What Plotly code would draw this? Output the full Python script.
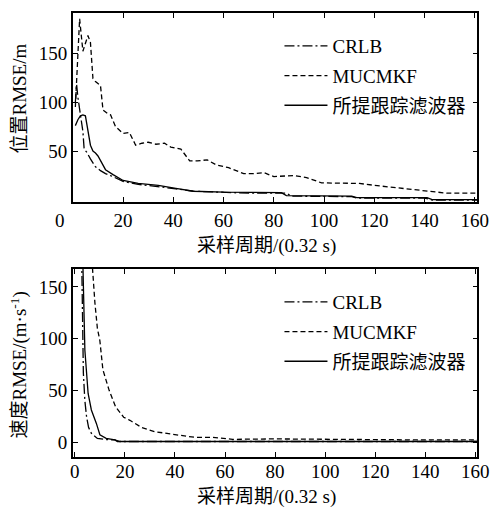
import plotly.graph_objects as go

# ---------------- data ----------------
# Position RMSE (top panel)
pos_crlb_x = [1, 1.5, 2, 3, 4, 4.5, 5.5, 7, 9, 11, 13, 15, 20, 26, 34, 41, 48, 60, 70, 85, 87, 111, 113, 140, 143, 161]
pos_crlb_y = [100, 118, 105, 88, 70, 52, 49, 42, 34, 30, 27, 25, 19, 16, 14, 11.5, 9, 7.5, 7, 7, 4, 3.5, 2, 2, 0, 0]

pos_muc_x = [1, 2, 2.7, 4, 5, 6, 7, 8, 9, 11, 12, 14, 15, 17, 20, 22.5, 25, 27.5, 30, 33, 36.5, 39, 43, 46.5, 49.5, 53.5, 57, 62, 68, 72, 76, 80, 88, 93, 99, 108, 114, 120, 127, 134, 141, 149, 155, 161]
pos_muc_y = [95, 150, 185, 152, 160, 168, 161, 124, 121, 117, 92, 88, 87, 75, 68, 69, 56, 58, 59, 57, 58, 54, 52, 40, 40, 41, 36, 33, 27, 27, 28, 24, 25, 23, 17.5, 17, 17, 15, 13, 11, 9, 7, 7, 7]

pos_prop_x = [1, 2, 3, 4, 5, 6, 7, 8, 9, 10, 11, 13, 16, 20, 26, 34, 41, 48, 60, 70, 83, 85, 111, 113, 141, 143, 161]
pos_prop_y = [76, 82, 86, 87, 86, 70, 56, 50, 48, 45, 40, 31, 26, 20, 17, 15, 12, 9, 8, 7.5, 7.5, 4.5, 4, 2.5, 2.5, 0.5, 0.5]

# Velocity RMSE (bottom panel)
vel_crlb_x = [2, 2.7, 3.1, 3.4, 4, 4.7, 5.5, 6.6, 9, 12, 16, 18, 161]
vel_crlb_y = [300, 170, 84, 67, 40, 24, 14, 8.5, 3.5, 2.5, 2, 0.5, 0.5]

vel_muc_x = [5, 7, 8, 9, 10, 11.2, 13.7, 16.3, 19.5, 22, 26.7, 32, 39, 48, 55, 63, 80, 100, 120, 140, 161]
vel_muc_y = [300, 170, 135, 110, 98, 70, 50, 34, 24, 21, 14, 10, 7.5, 4.5, 4.5, 2.6, 3, 2.5, 2.5, 2, 2]

vel_prop_x = [2, 3.2, 3.6, 4, 5.3, 6.6, 8.6, 10, 12.5, 16, 17, 161]
vel_prop_y = [300, 170, 120, 89, 47, 31, 18, 7, 3.5, 2, 0.5, 0.5]

names = ["CRLB", "MUCMKF", "所提跟踪滤波器"]
x_ticks = [0, 20, 40, 60, 80, 100, 120, 140, 160]
pos_yticks = [50, 100, 150]
vel_yticks = [0, 50, 100, 150]
x_title = "采样周期/(0.32 s)"
pos_title = "位置RMSE/m"
vel_title = "速度RMSE/(m·s<sup>-1</sup>)"

# ---------------- styling ----------------
FONT = "Liberation Serif, Times New Roman, Noto Sans CJK SC, serif"
dashes = ["10px,3px,2px,3px", "5px,3px", "solid"]
W, H = 501, 508

fig = go.Figure()
series_top = [(pos_crlb_x, pos_crlb_y), (pos_muc_x, pos_muc_y), (pos_prop_x, pos_prop_y)]
series_bot = [(vel_crlb_x, vel_crlb_y), (vel_muc_x, vel_muc_y), (vel_prop_x, vel_prop_y)]
for i, (xs, ys) in enumerate(series_top):
    fig.add_trace(go.Scatter(x=xs, y=ys, mode="lines", name=names[i],
                             line=dict(color="black", width=1.3, dash=dashes[i]),
                             xaxis="x", yaxis="y", legend="legend", legendgroup="a%d" % i))
for i, (xs, ys) in enumerate(series_bot):
    fig.add_trace(go.Scatter(x=xs, y=ys, mode="lines", name=names[i],
                             line=dict(color="black", width=1.3, dash=dashes[i]),
                             xaxis="x2", yaxis="y2", legend="legend2", legendgroup="b%d" % i))

xdom = [72 / W, 489 / W]
axis_common = dict(showline=True, linecolor="black", linewidth=1.5, mirror="ticks",
                   ticks="inside", ticklen=5, tickwidth=1.2, tickcolor="black",
                   showgrid=False, zeroline=False,
                   tickfont=dict(family=FONT, size=19, color="black"))

legend_common = dict(font=dict(family=FONT, size=19, color="black"),
                     bgcolor="rgba(0,0,0,0)", borderwidth=0, itemwidth=43,
                     tracegroupgap=2, xanchor="left", yanchor="top")

fig.update_layout(
    width=W, height=H, margin=dict(l=0, r=0, t=0, b=0),
    paper_bgcolor="white", plot_bgcolor="white",
    showlegend=True,
    xaxis=dict(domain=xdom, range=[0, 161], tickvals=x_ticks[1:], anchor="y", **axis_common),
    yaxis=dict(domain=[1 - 202 / H, 1 - 13 / H], range=[-2, 191], tickvals=pos_yticks, anchor="x", **axis_common),
    xaxis2=dict(domain=xdom, range=[-0.8, 160.8], tickvals=x_ticks, anchor="y2",
                ticklabelstandoff=-4, **axis_common),
    yaxis2=dict(domain=[1 - 457 / H, 1 - 269 / H], range=[-14.5, 167.4], tickvals=vel_yticks, anchor="x2", **axis_common),
    legend=dict(x=285 / W, y=1 - 27 / H, **legend_common),
    legend2=dict(x=285 / W, y=1 - 283 / H, **legend_common),
)

ann_font = dict(family=FONT, size=19, color="black")
def ann(text, px, py, angle=0, font=ann_font):
    fig.add_annotation(text=text, x=px / W, y=1 - py / H, xref="paper", yref="paper",
                       xanchor="center", yanchor="middle", showarrow=False,
                       textangle=angle, font=font)

ann("0", 59, 220)
ann(x_title, 272, 246)
ann(x_title, 272, 497)
ann(pos_title, 16, 99, -90)
ann(vel_title, 16, 365, -90)

fig.write_html("out.html")
